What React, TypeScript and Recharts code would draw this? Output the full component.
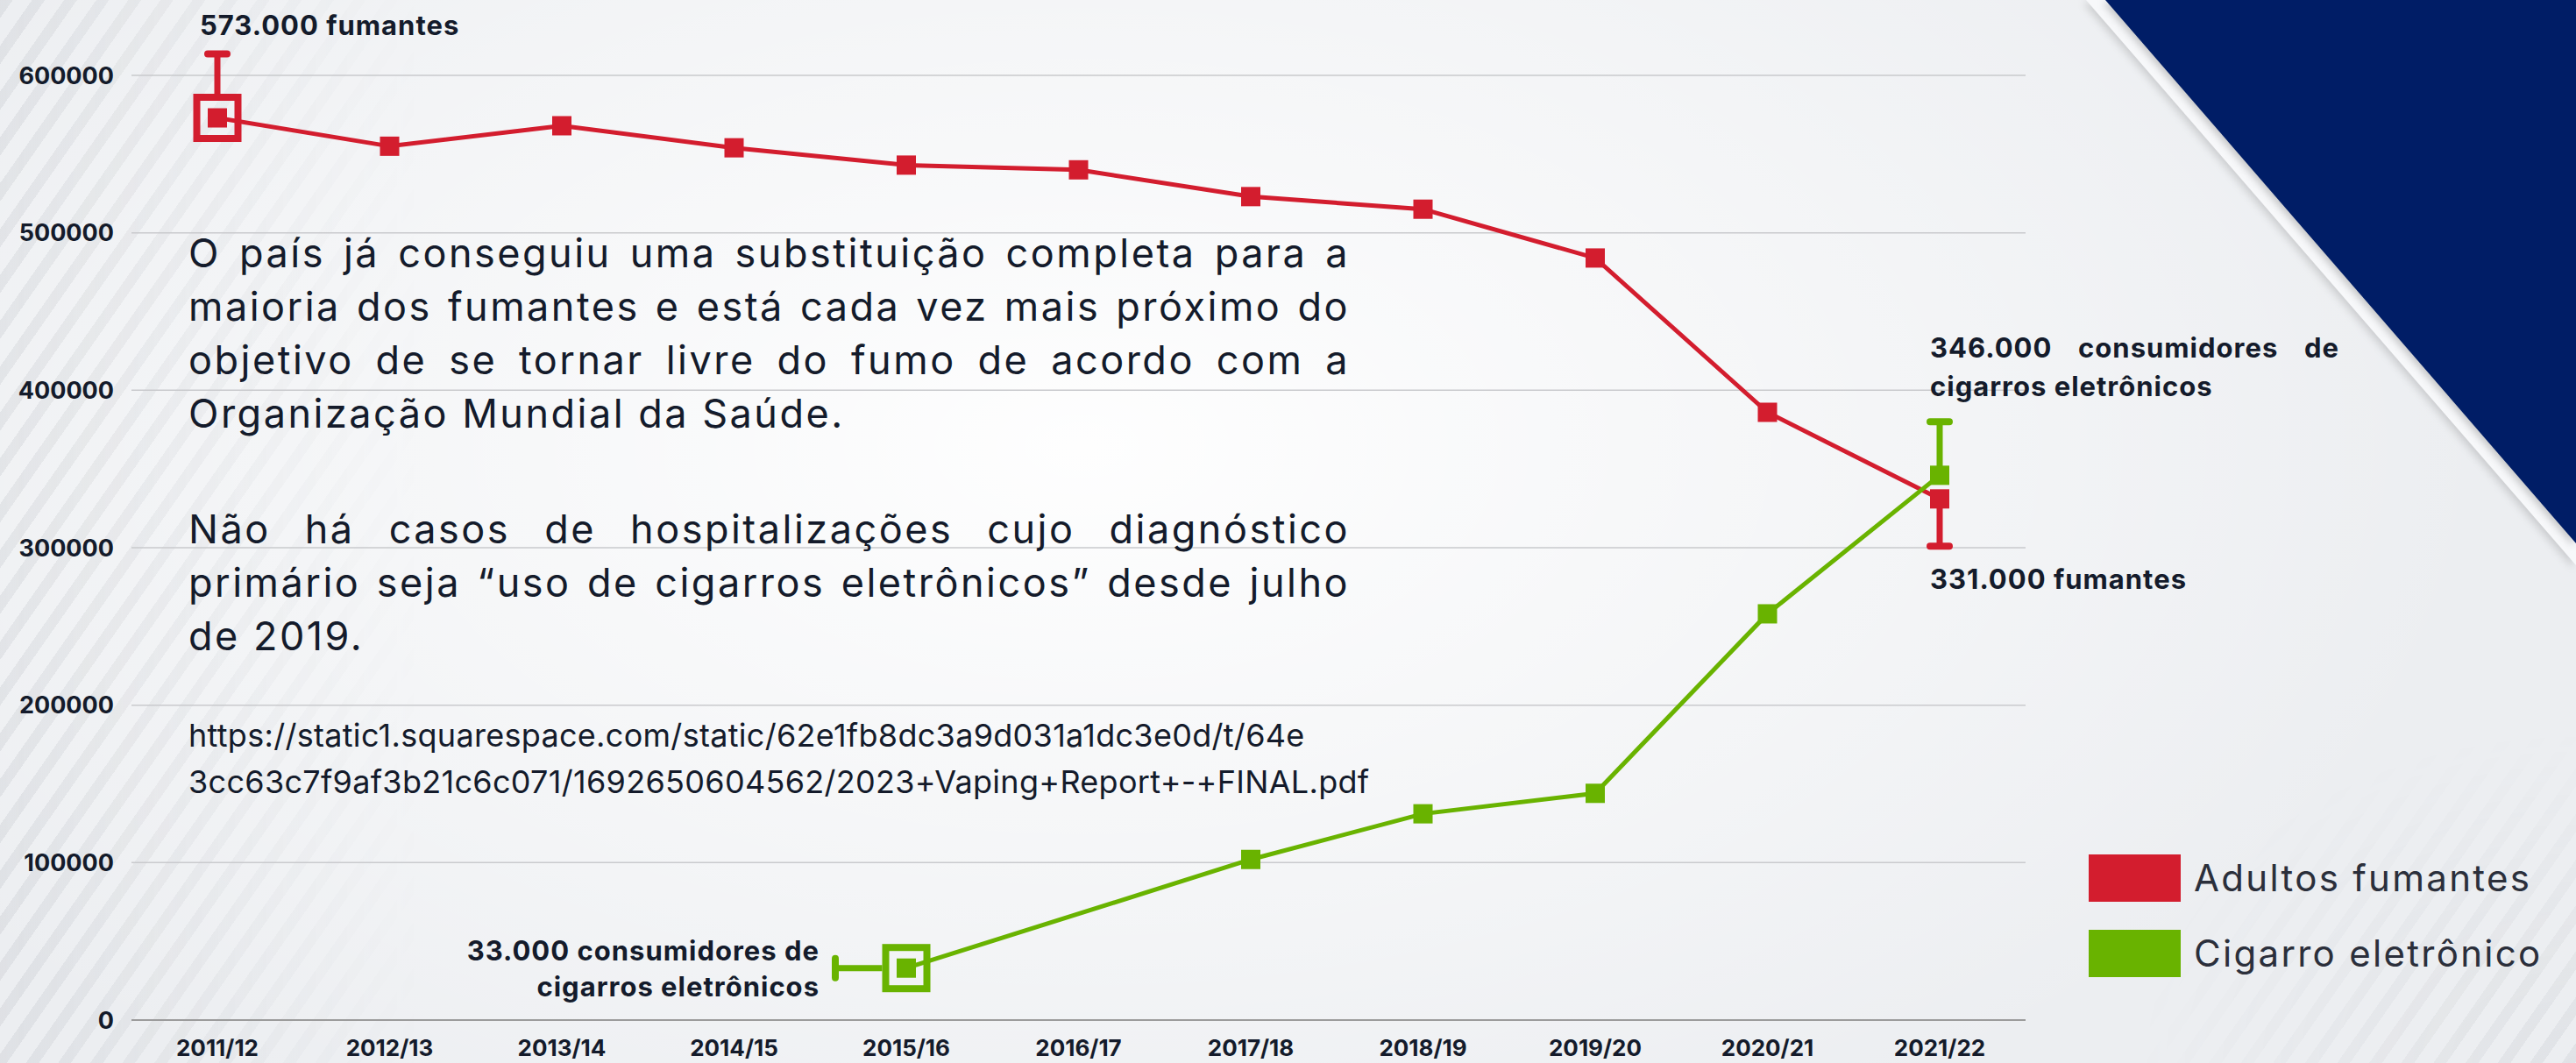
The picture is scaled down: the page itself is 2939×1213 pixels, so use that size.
import { LineChart, Line, XAxis, YAxis, CartesianGrid, Legend } from "recharts"

// chart data
const periods = [
  "2011/12", "2012/13", "2013/14", "2014/15", "2015/16", "2016/17",
  "2017/18", "2018/19", "2019/20", "2020/21", "2021/22",
]
const adultSmokers = [573000, 555000, 568000, 554000, 543000, 540000, 523000, 515000, 484000, 386000, 331000]
const eCigUsers = [null, null, null, null, 33000, null, 102000, 131000, 144000, 258000, 346000]
const yTicks = [0, 100000, 200000, 300000, 400000, 500000, 600000]
const seriesNames = ["Adultos fumantes", "Cigarro eletrônico"]

const W = 2939
const H = 1213
const FONT = "Inter, 'Noto Sans', sans-serif"
const RED = "#d31d2e"
const GREEN = "#69b300"
const NAVY = "#001d66"
const INK = "#141b2b"

const rows = periods.map((period, i) => ({
  period,
  adultos: adultSmokers[i],
  cigarro: eCigUsers[i],
}))

const fmt = (v: number) => String(v).replace(/\B(?=(\d{3})+(?!\d))/g, ".")

// decorative markers: highlight box + one sided whisker (pixel lengths)
type Mark = { box?: boolean; whisker?: "up" | "down" | "left"; len?: number }
const adultMarks: Record<number, Mark> = {
  0: { box: true, whisker: "up", len: 73 },
  10: { whisker: "down", len: 54 },
}
const cigMarks: Record<number, Mark> = {
  4: { box: true, whisker: "left", len: 81 },
  10: { whisker: "up", len: 61 },
}

function makeDot(color: string, marks: Record<number, Mark>) {
  return (props: any) => {
    const { cx, cy, index, value } = props
    if (cx == null || cy == null || value == null) return <g key={`e-${index}`} />
    const m = marks[index]
    const edge = m?.box ? 27.5 : 0
    let whisker = null
    if (m?.whisker && m.len) {
      const L = m.len
      if (m.whisker === "left") {
        whisker = (
          <g>
            <line x1={cx - edge} y1={cy} x2={cx - L} y2={cy} stroke={color} strokeWidth={7} />
            <line x1={cx - L} y1={cy - 11} x2={cx - L} y2={cy + 11} stroke={color} strokeWidth={8} strokeLinecap="round" />
          </g>
        )
      } else {
        const s = m.whisker === "up" ? -1 : 1
        whisker = (
          <g>
            <line x1={cx} y1={cy + s * edge} x2={cx} y2={cy + s * L} stroke={color} strokeWidth={7} />
            <line x1={cx - 11} y1={cy + s * L} x2={cx + 11} y2={cy + s * L} stroke={color} strokeWidth={8} strokeLinecap="round" />
          </g>
        )
      }
    }
    return (
      <g key={`d-${index}`}>
        {whisker}
        {m?.box && (
          <rect x={cx - 23.5} y={cy - 23.5} width={47} height={47} fill="none" stroke={color} strokeWidth={8} />
        )}
        <rect x={cx - 11} y={cy - 11} width={22} height={22} fill={color} />
      </g>
    )
  }
}

const renderLegend = (props: any) => (
  <div>
    {(props.payload || []).map((e: any) => (
      <div key={e.value} style={{ display: "flex", alignItems: "center", height: 54, marginBottom: 32 }}>
        <div style={{ width: 105, height: 54, background: e.color }} />
        <span style={{ marginLeft: 15, fontSize: 42, lineHeight: "54px", color: "#2b2f3b", letterSpacing: 2.3, fontFamily: FONT }}>
          {e.value}
        </span>
      </div>
    ))}
  </div>
)

const justify = { textAlign: "justify" as const, textAlignLast: "justify" as const }
const note = { fontSize: 31, fontWeight: 700, color: INK, letterSpacing: 1 }

export default function App() {
  const first = adultSmokers[0]
  const last = adultSmokers[adultSmokers.length - 1]
  const cigFirst = eCigUsers[4] as number
  const cigLast = eCigUsers[eCigUsers.length - 1] as number

  return (
    <div style={{ position: "fixed", left: 0, top: 0, width: W, height: H, overflow: "hidden", background: "#eceef1", fontFamily: FONT }}>
      {/* photo-like background */}
      <div style={{ position: "absolute", inset: 0, background: "radial-gradient(ellipse 55% 75% at 42% 42%, rgba(255,255,255,0.95), rgba(255,255,255,0.35) 65%, rgba(255,255,255,0) 100%)" }} />
      <div style={{
        position: "absolute", inset: 0,
        background: "repeating-linear-gradient(125deg, rgba(110,115,125,0.10) 0px 12px, rgba(110,115,125,0) 12px 30px)",
        WebkitMaskImage: "linear-gradient(90deg, black 0px, transparent 480px)",
        maskImage: "linear-gradient(90deg, black 0px, transparent 480px)",
      }} />
      <div style={{
        position: "absolute", inset: 0,
        background: "repeating-linear-gradient(125deg, rgba(110,115,125,0.09) 0px 12px, rgba(110,115,125,0) 12px 30px)",
        WebkitMaskImage: "radial-gradient(ellipse 500px 380px at 100% 100%, black, transparent)",
        maskImage: "radial-gradient(ellipse 500px 380px at 100% 100%, black, transparent)",
      }} />
      {/* navy corner */}
      <div style={{ position: "absolute", inset: 0, filter: "drop-shadow(-3px 3px 5px rgba(0,0,0,0.15))" }}>
        <div style={{ position: "absolute", inset: 0, background: "#f7f8fa", clipPath: "polygon(2380px 0px, 2939px 0px, 2939px 645px)" }} />
      </div>
      <div style={{ position: "absolute", inset: 0, filter: "drop-shadow(-3px 3px 4px rgba(0,0,0,0.2))" }}>
        <div style={{ position: "absolute", inset: 0, background: NAVY, clipPath: "polygon(2402px 0px, 2939px 0px, 2939px 620px)" }} />
      </div>

      <div style={{ position: "absolute", left: 0, top: 0 }}>
        <LineChart width={W} height={H} data={rows} margin={{ top: 86, right: 628, bottom: 0, left: 0 }} style={{ fontFamily: FONT }}>
          <CartesianGrid vertical={false} stroke="#c9cacd" strokeWidth={1.5} />
          <XAxis
            dataKey="period"
            height={49}
            interval={0}
            padding={{ left: 98, right: 98 }}
            tickLine={false}
            tickSize={0}
            tickMargin={23}
            axisLine={{ stroke: "#9c9c9c", strokeWidth: 2 }}
            tick={{ fontSize: 26, fontWeight: 700, fill: INK, fontFamily: FONT }}
          />
          <YAxis
            width={150}
            domain={[0, 600000]}
            ticks={yTicks}
            tickLine={false}
            axisLine={false}
            tickSize={0}
            tickMargin={20}
            tick={{ fontSize: 27, fontWeight: 700, fill: INK, fontFamily: FONT }}
          />
          <Legend layout="vertical" align="center" verticalAlign="middle" content={renderLegend}
            wrapperStyle={{ position: "absolute", left: 2383, top: 975, width: 556, height: "auto" }} />
          <Line type="linear" dataKey="adultos" name={seriesNames[0]} stroke={RED} strokeWidth={5}
            dot={makeDot(RED, adultMarks)} activeDot={false} isAnimationActive={false} />
          <Line type="linear" dataKey="cigarro" name={seriesNames[1]} stroke={GREEN} strokeWidth={5} connectNulls
            dot={makeDot(GREEN, cigMarks)} activeDot={false} isAnimationActive={false} />
        </LineChart>
      </div>

      {/* annotations */}
      <div style={{ position: "absolute", left: 228, top: 11, lineHeight: "36px", ...note }}>
        {fmt(first)} fumantes
      </div>
      <div style={{ position: "absolute", left: 2202, top: 375, width: 467, lineHeight: "44px", ...note }}>
        <div style={justify}>{fmt(cigLast)} consumidores de</div>
        <div>cigarros eletrônicos</div>
      </div>
      <div style={{ position: "absolute", left: 2202, top: 639, lineHeight: "44px", ...note }}>
        {fmt(last)} fumantes
      </div>
      <div style={{ position: "absolute", left: 400, top: 1064, width: 535, textAlign: "right", lineHeight: "41px", ...note }}>
        <div>{fmt(cigFirst)} consumidores de</div>
        <div>cigarros eletrônicos</div>
      </div>

      {/* text block */}
      <div style={{ position: "absolute", left: 215, top: 258, width: 1325, fontSize: 45, lineHeight: "61px", letterSpacing: 2.5, color: INK }}>
        <div style={justify}>O país já conseguiu uma substituição completa para a</div>
        <div style={justify}>maioria dos fumantes e está cada vez mais próximo do</div>
        <div style={justify}>objetivo de se tornar livre do fumo de acordo com a</div>
        <div>Organização Mundial da Saúde.</div>
      </div>
      <div style={{ position: "absolute", left: 215, top: 573, width: 1325, fontSize: 45, lineHeight: "61px", letterSpacing: 2.5, color: INK }}>
        <div style={justify}>Não há casos de hospitalizações cujo diagnóstico</div>
        <div style={justify}>primário seja “uso de cigarros eletrônicos” desde julho</div>
        <div>de 2019.</div>
      </div>
      <div style={{ position: "absolute", left: 215, top: 813, fontSize: 36, lineHeight: "53px", letterSpacing: 0.3, color: INK, whiteSpace: "nowrap" }}>
        <div>https://static1.squarespace.com/static/62e1fb8dc3a9d031a1dc3e0d/t/64e</div>
        <div>3cc63c7f9af3b21c6c071/1692650604562/2023+Vaping+Report+-+FINAL.pdf</div>
      </div>
    </div>
  )
}
